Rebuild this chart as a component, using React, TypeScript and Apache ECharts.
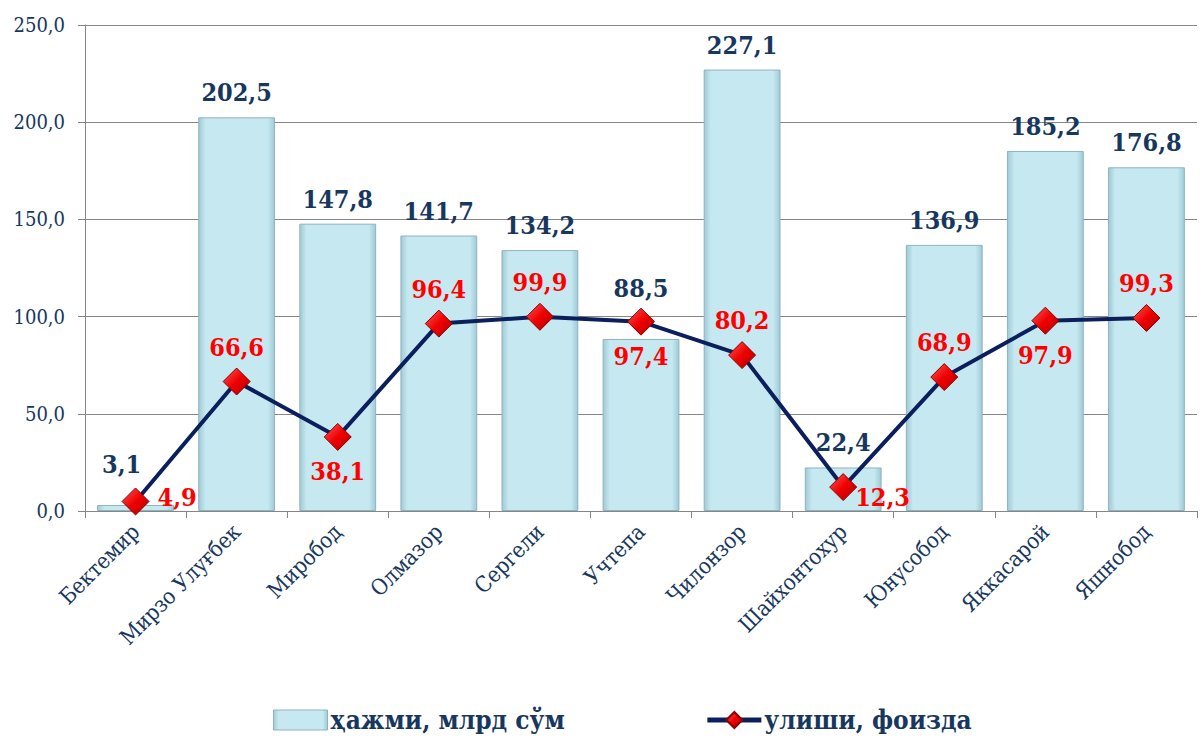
import React, { useEffect, useRef } from "react";
import * as echarts from "echarts";

const categories = ["Бектемир", "Мирзо Улуғбек", "Миробод", "Олмазор", "Сергели", "Учтепа", "Чилонзор", "Шайхонтохур", "Юнусобод", "Яккасарой", "Яшнобод"];
const volume = [3.1, 202.5, 147.8, 141.7, 134.2, 88.5, 227.1, 22.4, 136.9, 185.2, 176.8];
const share = [4.9, 66.6, 38.1, 96.4, 99.9, 97.4, 80.2, 12.3, 68.9, 97.9, 99.3];
const shareLabelPos = ["right", "top", "bottom", "top", "top", "bottom", "top", "right", "top", "bottom", "top"];
const yTicks = [0, 50, 100, 150, 200, 250];

const NAVY = "#17375E";
const COND = "DejaVu Serif Condensed";
const fmt = (v: number) => v.toFixed(1).replace(".", ",");

export default function App() {
  const ref = useRef<HTMLDivElement>(null);
  useEffect(() => {
    const chart = echarts.init(ref.current!, null, { renderer: "svg" });
    const barFill = new echarts.graphic.LinearGradient(0, 0, 1, 0, [
      { offset: 0, color: "#9fcad6" },
      { offset: 0.09, color: "#c6e8f1" },
      { offset: 0.91, color: "#c6e8f1" },
      { offset: 1, color: "#9fcad6" },
    ]);
    const markerFill = new echarts.graphic.LinearGradient(0, 0, 1, 1, [
      { offset: 0, color: "#ff5a5a" },
      { offset: 0.5, color: "#ee0000" },
      { offset: 1, color: "#b00000" },
    ]);
    chart.setOption({
      animation: false,
      grid: { left: 85, right: 4, top: 25, bottom: 229, containLabel: false },
      legend: {
        bottom: 2,
        left: 268,
        itemGap: 140,
        itemWidth: 54,
        itemHeight: 20,
        textStyle: { fontFamily: COND, fontWeight: "bold", fontSize: 26, color: NAVY, padding: [0, 0, 0, -2] },
        data: [
          { name: "ҳажми, млрд сўм", icon: "rect", itemStyle: { color: barFill, borderColor: "#8fb3be", borderWidth: 1 } },
          { name: "улиши, фоизда", lineStyle: { width: 5, color: "#0b1f5c" } },
        ],
      },
      xAxis: {
        type: "category",
        data: categories,
        axisLine: { lineStyle: { color: "#868686", width: 1 } },
        axisTick: { show: true, length: 7, lineStyle: { color: "#868686" } },
        axisLabel: {
          rotate: 45,
          interval: 0,
          margin: 17,
          fontFamily: COND,
          fontSize: 22,
          color: NAVY,
        },
      },
      yAxis: {
        type: "value",
        min: yTicks[0],
        max: yTicks[yTicks.length - 1],
        interval: 50,
        axisLine: { show: true, lineStyle: { color: "#868686", width: 1 } },
        axisTick: { show: true, length: 7, lineStyle: { color: "#868686" } },
        splitLine: { lineStyle: { color: "#868686", width: 1 } },
        axisLabel: {
          formatter: (v: number) => fmt(v),
          fontFamily: COND,
          fontSize: 20,
          color: NAVY,
          margin: 20,
        },
      },
      series: [
        {
          name: "ҳажми, млрд сўм",
          type: "bar",
          barWidth: "76%",
          data: volume.map((v, i) => ({
            value: v,
            label: i === 0 ? { offset: [-14, -16] } : i === 5 ? { offset: [0, -26] } : undefined,
          })),
          itemStyle: { color: barFill, borderColor: "#8fb3be", borderWidth: 1 },
          label: {
            show: true,
            position: "top",
            distance: 12,
            formatter: (p: any) => fmt(p.value),
            fontFamily: COND,
            fontWeight: "bold",
            fontSize: 25,
            color: NAVY,
          },
          z: 2,
        },
        {
          name: "улиши, фоизда",
          type: "line",
          data: share.map((v, i) => ({
            value: v,
            label: {
              position: shareLabelPos[i],
              offset: i === 7 ? [-10, 10] : i === 0 ? [0, -4] : [0, 0],
            },
          })),
          lineStyle: { color: "#0b1f5c", width: 4 },
          itemStyle: { color: markerFill, borderColor: "#8b0000", borderWidth: 1 },
          symbol: "diamond",
          symbolSize: 27,
          label: {
            show: true,
            distance: 8,
            formatter: (p: any) => fmt(p.value),
            fontFamily: COND,
            fontWeight: "bold",
            fontSize: 25,
            color: "#ff0000",
          },
          z: 3,
        },
      ],
    });
    return () => chart.dispose();
  }, []);
  return <div ref={ref} style={{ width: 1201, height: 740, position: "absolute", left: 0, top: 0 }} />;
}
